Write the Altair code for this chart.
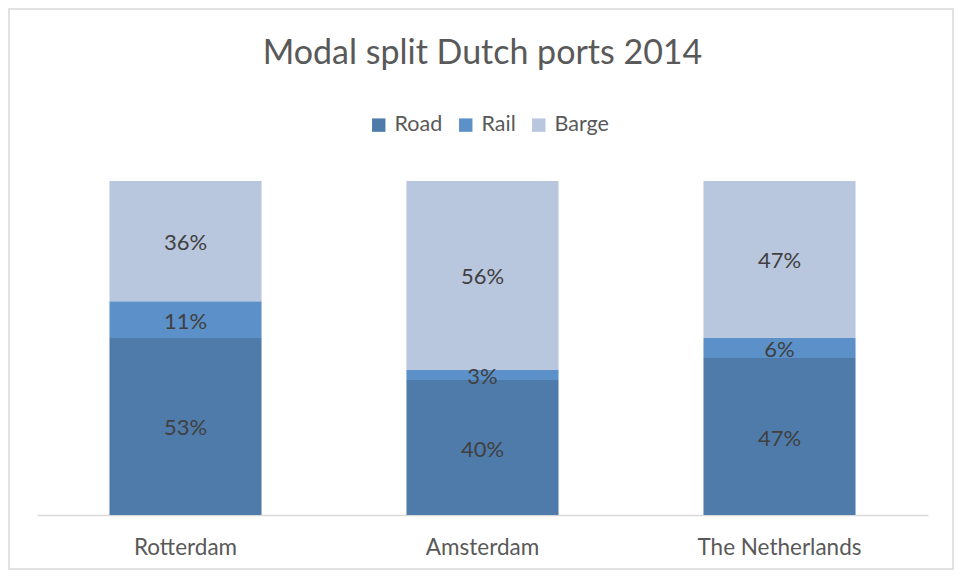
import altair as alt
import pandas as pd

cities = ["Rotterdam", "Amsterdam", "The Netherlands"]
modes = ["Road", "Rail", "Barge"]
road = [53, 40, 47]
rail = [11, 3, 6]
barge = [36, 56, 47]
colors = ["#4f7bab", "#5b90c8", "#b8c6de"]

rows = []
for i, c in enumerate(cities):
    for j, (m, vals) in enumerate(zip(modes, [road, rail, barge])):
        rows.append({"city": c, "mode": m, "value": vals[i], "order": j,
                     "label": f"{vals[i]}%"})
df = pd.DataFrame(rows)

FONT = "Lato"

base = alt.Chart(df).transform_stack(
    stack="value", as_=["v0", "v1"], groupby=["city"],
    sort=[alt.SortField("order", order="ascending")], offset="normalize"
).transform_calculate(mid="(datum.v0 + datum.v1) / 2")

xenc = alt.X("city:N", sort=cities, title=None,
             scale=alt.Scale(paddingInner=0.488, paddingOuter=0.244),
             axis=alt.Axis(labelAngle=0, ticks=False, domainColor="#d9d9d9",
                           domainWidth=1.5, labelFontSize=22.5, labelFont=FONT,
                           labelColor="#595959", labelPadding=21))

bars = base.mark_bar().encode(
    x=xenc,
    y=alt.Y("v0:Q", scale=alt.Scale(domain=[0, 1]), axis=None),
    y2="v1:Q",
    color=alt.Color("mode:N", sort=modes,
                    scale=alt.Scale(domain=modes, range=colors),
                    legend=alt.Legend(title=None, orient="none", direction="horizontal",
                                      legendX=331, legendY=-67,
                                      symbolType="square", symbolSize=180,
                                      symbolStrokeWidth=0,
                                      labelFontSize=21.5, labelFont=FONT,
                                      labelColor="#595959", labelOffset=5,
                                      columnPadding=12)),
)

texts = base.mark_text(fontSize=22, font=FONT, color="#404040", baseline="middle", dy=2).encode(
    x=alt.X("city:N", sort=cities),
    y=alt.Y("mid:Q", scale=alt.Scale(domain=[0, 1])),
    text="label:N",
)

border = alt.Chart(pd.DataFrame({"a": [0]})).mark_rect(
    fill=None, stroke="#d9d9d9", strokeWidth=1.5
).encode(x=alt.value(-28), x2=alt.value(916), y=alt.value(-172), y2=alt.value(388))

chart = alt.layer(border, bars, texts).properties(
    width=891, height=334,
    autosize=alt.AutoSizeParams(type="none"),
    padding={"left": 29, "top": 173, "right": 26, "bottom": 55},
    title=alt.Title("Modal split Dutch ports 2014", fontSize=34, font=FONT,
                    color="#595959", fontWeight="normal", anchor="middle",
                    frame="group", offset=-63),
).configure_view(stroke=None)

chart.save("out.html", embed_options={"renderer": "svg", "actions": False})
